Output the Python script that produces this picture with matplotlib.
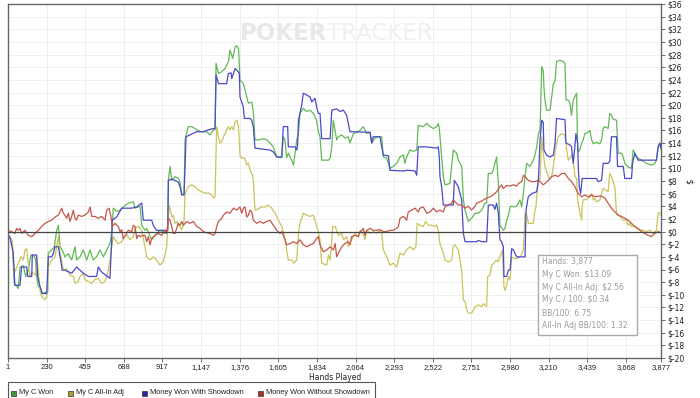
import matplotlib
matplotlib.use("Agg")
import matplotlib.pyplot as plt
from matplotlib.patches import Rectangle

# bankroll graph, values
green_hands = [1, 13, 26, 38, 62, 72, 92, 106, 121, 137, 157, 165, 171, 181, 191, 201, 225, 237, 240, 260, 276, 290, 300, 310, 323, 339, 358, 379, 399, 408, 428, 448, 468, 488, 507, 527, 547, 567, 587, 606, 616, 626, 646, 666, 685, 715, 745, 755, 785, 795, 814, 824, 854, 873, 903, 933, 949, 953,
               963, 973, 992, 1012, 1022, 1032, 1046, 1052, 1071, 1091, 1111, 1141, 1180, 1200, 1220, 1230, 1236, 1250, 1270, 1290, 1309, 1319, 1335, 1349, 1359, 1370, 1378, 1398, 1408, 1418, 1428, 1448, 1457, 1467, 1487, 1517, 1537, 1556, 1576, 1596, 1616, 1626, 1635, 1645, 1655, 1665, 1685, 1695, 1705, 1715, 1725, 1734, 1754, 1774, 1794, 1813, 1833, 1843, 1853, 1863, 1903,
               1913, 1923, 1932, 1952, 1962, 1982, 2001, 2021, 2031, 2051, 2071, 2090, 2110, 2130, 2150, 2160, 2179, 2199, 2219, 2229, 2249, 2268, 2288, 2308, 2328, 2348, 2357, 2367, 2387, 2407, 2427, 2436, 2466, 2486, 2506, 2526, 2545, 2555, 2561, 2575, 2585, 2595, 2624, 2644, 2664, 2674, 2694, 2704, 2714, 2733, 2753, 2773, 2793, 2813, 2832, 2842, 2852, 2872, 2881, 2901, 2911, 2921, 2941, 2951, 2961, 2971, 2981, 2991, 3001, 3020, 3040, 3050, 3060, 3070, 3080, 3099, 3119, 3129, 3139, 3149, 3159, 3169, 3178, 3182, 3188, 3198, 3218, 3228, 3238, 3248, 3257, 3277, 3297, 3307, 3313, 3327, 3337, 3346, 3356, 3366, 3376, 3382, 3386, 3396, 3406, 3415, 3425, 3445, 3455, 3465, 3475, 3494, 3514, 3524, 3534, 3544, 3563, 3573, 3583, 3593, 3613, 3623, 3643, 3653, 3662, 3682, 3702, 3712, 3722, 3731, 3761, 3791, 3820, 3840, 3850, 3860, 3870, 3877]
green_vals = [-0.5, -1.0, -1.6, -8.2, -9.0, -5.6, -5.4, -7.1, -6.1, -3.7, -3.9, -4.5, -7.1, -8.7, -8.7, -9.8, -9.6, -9.6, -3.4, -2.9, -2.4, 0.2, 1.0, -2.4, -2.9, -4.0, -3.5, -4.5, -2.4, -4.5, -4.0, -2.9, -4.5, -2.9, -4.5, -4.0, -2.9, -4.0, -2.9, -1.9, -0.3, 3.7, 3.2, 3.4, 3.9, 4.5, 4.7, 3.7, 4.0, 1.0, 0.2, 0.5, -1.3, -0.6, 0.2, -0.3, 0.2, 8.1,
              10.3, 8.1, 8.7, 8.4, 7.8, 6.0, 5.8, 14.5, 16.6, 16.6, 16.3, 15.8, 15.8, 15.3, 16.1, 16.1, 26.6, 25.0, 25.3, 25.8, 26.9, 28.7, 27.4, 29.2, 29.4, 28.8, 24.0, 23.4, 22.4, 21.3, 20.3, 20.5, 19.0, 14.5, 14.5, 14.7, 14.5, 14.0, 13.4, 11.8, 11.7, 11.7, 15.0, 14.5, 11.7, 12.4, 11.3, 10.5, 12.4, 14.5, 15.5, 18.7, 19.5, 19.0, 19.2, 18.7, 17.6, 15.8, 15.0, 11.3, 11.3,
              11.6, 13.4, 17.6, 14.5, 15.0, 15.3, 14.8, 15.0, 14.0, 15.5, 15.7, 16.0, 16.6, 15.5, 15.7, 14.0, 14.8, 15.0, 15.0, 11.8, 11.6, 10.0, 10.3, 10.8, 11.8, 12.1, 10.8, 11.8, 12.9, 12.7, 12.9, 16.8, 16.6, 17.1, 16.6, 16.3, 16.6, 17.1, 16.3, 11.8, 8.7, 7.4, 7.6, 12.9, 12.4, 11.3, 10.3, 5.0, 3.4, 1.6, 2.1, 2.9, 2.9, 3.4, 4.5, 4.5, 9.2, 9.2, 9.7, 11.8, 7.9, 1.0, 0.2, 0.5, 1.8, 2.5, 3.9, 4.0, 3.9, 4.0, 5.0, 3.9, 6.0, 8.7, 10.8, 10.3, 11.3, 12.1, 13.4, 15.5, 16.0, 26.1, 25.5, 22.9, 20.8, 19.2, 19.2, 21.3, 23.4, 23.8, 26.9, 27.1, 26.9, 26.6, 20.8, 20.8, 20.3, 18.4, 20.8, 21.3, 21.9, 13.4, 12.6, 13.0, 14.0, 14.5, 15.5, 15.7, 16.0, 14.5, 13.9, 14.1, 13.9, 14.5, 16.3, 16.6, 16.3, 18.7, 18.4, 17.8, 17.6, 12.4, 12.4, 11.8, 10.8, 10.2, 10.0, 12.9, 12.4, 11.8, 11.3, 10.8, 10.5, 10.8, 11.3, 13.4, 14.0, 13.09]

allin_hands = [1, 13, 26, 38, 78, 92, 102, 112, 121, 131, 142, 165, 171, 181, 191, 201, 221, 231, 240, 260, 280, 290, 300, 310, 320, 329, 349, 369, 389, 399, 418, 428, 448, 458, 478, 498, 517, 537, 557, 577, 587, 596, 606, 616, 626, 636, 656, 676, 695, 705, 725, 745, 755, 775, 795, 814, 824, 844, 863, 883, 903, 923, 943, 953,
               958, 973, 982, 992, 1002, 1012, 1022, 1032, 1042, 1046, 1052, 1071, 1091, 1111, 1131, 1150, 1170, 1190, 1210, 1220, 1230, 1236, 1240, 1250, 1260, 1270, 1280, 1290, 1299, 1309, 1319, 1329, 1339, 1349, 1359, 1368, 1374, 1378, 1388, 1408, 1418, 1428, 1438, 1448, 1457, 1467, 1487, 1507, 1527, 1546, 1566, 1586, 1606, 1626, 1635, 1645, 1655, 1665, 1685, 1695, 1715, 1725, 1734, 1754, 1774, 1794, 1813, 1823, 1833, 1843, 1853, 1863, 1893, 1903, 1913,
               1929, 1943, 1962, 1982, 1992, 2011, 2021, 2041, 2061, 2080, 2100, 2120, 2130, 2150, 2169, 2189, 2209, 2219, 2229, 2249, 2268, 2288, 2308, 2318, 2328, 2348, 2367, 2387, 2407, 2422, 2430, 2446, 2466, 2480, 2496, 2516, 2536, 2545, 2555, 2565, 2585, 2595, 2614, 2634, 2644, 2654, 2674, 2684, 2694, 2704, 2714, 2724, 2733, 2753, 2763, 2773, 2793, 2813, 2822, 2842, 2848, 2862, 2872, 2881, 2901, 2911, 2935, 2945, 2951, 2961, 2971, 2981, 2991, 3010, 3030, 3050, 3060, 3070, 3080, 3089, 3119, 3129, 3134, 3149, 3159, 3169, 3178, 3188, 3208, 3218, 3228, 3238, 3248, 3257, 3267, 3287, 3307, 3317, 3327, 3337, 3346, 3356, 3366, 3376, 3382, 3396, 3406, 3409, 3415, 3435, 3455, 3465, 3475, 3485, 3494, 3514, 3524, 3534, 3554, 3563, 3573, 3583, 3593, 3603, 3607, 3613, 3623, 3643, 3653, 3672, 3682, 3692, 3702, 3722, 3731, 3751, 3771, 3791, 3810, 3830, 3850, 3860, 3870, 3877]
allin_vals = [-0.5, -0.8, -1.6, -6.6, -4.0, -4.5, -2.9, -2.7, -5.0, -7.1, -6.4, -6.9, -4.0, -6.4, -9.3, -10.3, -10.8, -10.3, -5.6, -4.5, -4.0, -2.4, -0.8, -3.4, -4.5, -6.1, -5.9, -6.9, -7.1, -8.2, -7.9, -7.1, -6.6, -7.6, -7.9, -8.2, -7.6, -7.4, -8.2, -7.9, -7.1, -6.1, -4.5, -2.4, -0.8, -1.3, -1.9, -1.6, -0.8, -0.5, -1.3, -0.8, 0.5, 0.8, 0.2, -2.4, -4.0, -4.5, -4.0, -4.5, -5.3, -4.8, -2.4, 2.3,
              4.2, 2.3, 2.6, 1.3, 1.6, 1.0, 0.8, 0.3, 1.0, 1.8, 6.0, 7.1, 7.4, 7.1, 6.6, 6.3, 6.1, 6.1, 5.8, 5.3, 5.5, 12.9, 16.6, 15.0, 14.0, 14.2, 15.0, 15.5, 16.1, 16.6, 16.1, 16.6, 16.1, 17.4, 17.6, 16.8, 14.5, 12.1, 11.6, 11.6, 10.5, 10.8, 9.7, 9.2, 8.4, 3.4, 3.6, 3.9, 3.9, 4.2, 3.7, 2.9, 1.8, 0.8, 0.0, -1.1, -2.9, -4.5, -4.5, -5.0, -4.5, -0.3, 1.3, 2.9, 2.6, 2.4, 2.6, 1.8, 0.8, 0.0, -1.3, -5.0, -5.3, -3.7, -4.5,
              0.8, 0.8, -0.6, -0.3, -1.3, -0.8, -2.4, -1.3, -0.3, -0.8, 0.2, -1.3, 0.2, -0.3, 0.0, -0.3, 0.2, -0.3, -2.9, -4.0, -5.3, -5.0, -5.6, -4.5, -3.4, -3.7, -2.9, -2.4, -2.9, -2.4, 1.3, 1.0, 0.8, 1.6, 1.0, 1.0, 0.8, 1.0, 0.2, -1.9, -3.4, -4.5, -4.8, -4.5, -2.4, -2.1, -2.9, -4.5, -6.3, -10.8, -11.1, -12.4, -12.9, -12.9, -12.4, -11.9, -11.6, -11.9, -11.4, -11.9, -7.1, -6.9, -5.3, -5.1, -4.5, -4.8, -2.9, -8.7, -9.3, -8.5, -7.1, -7.6, -4.0, -4.3, -4.2, -3.6, -2.9, 2.9, 2.6, 1.3, 1.3, 3.4, 3.7, 8.4, 8.2, 15.0, 12.4, 10.3, 8.7, 8.3, 8.7, 10.3, 12.4, 14.0, 15.0, 15.5, 15.3, 12.9, 11.3, 11.6, 12.1, 11.3, 8.7, 8.4, 5.0, 2.9, 1.8, 3.9, 5.0, 5.1, 5.5, 6.0, 5.0, 5.2, 4.7, 5.0, 6.0, 6.8, 6.5, 6.3, 9.2, 8.7, 7.9, 7.1, 5.5, 2.9, 2.6, 2.1, 1.8, 1.8, 1.0, 1.3, 0.8, 0.8, 0.5, 0.2, 0.2, 0.0, 0.2, -0.3, 0.2, 2.9, 3.0, 2.56]

sd_hands = [1, 13, 32, 42, 72, 82, 112, 118, 142, 145, 171, 177, 191, 205, 231, 240, 260, 270, 280, 300, 310, 323, 339, 379, 408, 428, 448, 478, 527, 537, 557, 606, 616, 620, 646, 676, 735, 765, 795, 804, 854, 863, 883, 949, 953,
            973, 992, 1012, 1022, 1032, 1046, 1058, 1081, 1121, 1160, 1190, 1220, 1230, 1236, 1250, 1299, 1309, 1325, 1329, 1349, 1364, 1374, 1378, 1388, 1398, 1404, 1438, 1448, 1457, 1467, 1556, 1576, 1596, 1626, 1635, 1661, 1665, 1705, 1715, 1720, 1725, 1744, 1754, 1774, 1794, 1804, 1823, 1833, 1843, 1853, 1863, 1913,
            1923, 1952, 1972, 1992, 2011, 2031, 2150, 2160, 2169, 2209, 2219, 2229, 2259, 2268, 2328, 2357, 2367, 2417, 2427, 2436, 2486, 2545, 2555, 2561, 2565, 2575, 2585, 2644, 2650, 2674, 2694, 2704, 2714, 2783, 2793, 2813, 2842, 2852, 2881, 2891, 2901, 2911, 2921, 2931, 2941, 2945, 2961, 2971, 2981, 2991, 3001, 3020, 3070, 3076, 3089, 3109, 3139, 3149, 3159, 3169, 3178, 3182, 3198, 3218, 3238, 3248, 3257, 3307, 3313, 3337, 3346, 3356, 3366, 3372, 3382, 3386, 3392, 3400, 3409, 3494, 3504, 3524, 3534, 3563, 3573, 3583, 3613, 3619, 3653, 3662, 3702, 3708, 3722, 3741, 3850, 3860, 3870, 3877]
sd_vals = [-0.5, -1.0, -3.4, -8.5, -8.5, -5.6, -5.6, -7.1, -7.1, -3.7, -3.7, -7.1, -8.7, -9.8, -9.8, -4.0, -4.0, -3.5, -2.4, -2.4, -4.0, -6.1, -6.1, -6.6, -5.6, -6.1, -6.6, -7.1, -7.1, -5.6, -6.4, -7.4, -2.0, 1.8, 2.3, 3.7, 3.7, 3.9, 4.5, 1.8, 1.8, 1.0, 0.2, 0.2, 8.1,
           8.3, 8.1, 7.8, 7.1, 5.8, 5.8, 15.0, 15.3, 15.8, 15.8, 16.1, 16.3, 16.3, 24.8, 23.4, 23.4, 25.0, 25.1, 24.2, 25.8, 25.4, 25.0, 21.3, 20.5, 19.7, 17.9, 17.9, 17.6, 16.6, 13.2, 12.9, 12.6, 11.8, 11.8, 16.6, 16.6, 13.4, 13.4, 12.9, 13.7, 17.6, 20.0, 21.9, 21.6, 21.3, 20.5, 21.1, 19.7, 18.7, 18.7, 14.7, 14.7,
           19.2, 19.4, 19.0, 19.2, 18.4, 15.8, 15.7, 14.0, 15.0, 15.0, 13.4, 12.1, 12.0, 9.7, 9.6, 9.6, 9.7, 9.6, 8.9, 13.4, 13.4, 13.2, 13.4, 11.8, 8.7, 7.1, 4.2, 4.2, 8.1, 7.1, 5.0, -0.3, -1.6, -1.6, -1.4, -1.6, -1.6, 4.2, 4.2, 3.5, 4.5, 3.0, -1.3, -1.6, -2.4, -7.1, -7.1, -6.1, -6.1, -2.7, -2.9, -4.0, -4.0, 3.4, 5.5, 6.0, 6.3, 8.0, 14.5, 17.6, 17.3, 12.9, 12.1, 11.8, 12.1, 14.0, 17.9, 17.7, 14.0, 13.7, 13.4, 10.8, 13.5, 15.5, 14.0, 10.3, 7.1, 6.0, 8.4, 8.4, 7.9, 8.1, 10.8, 10.8, 11.1, 15.0, 15.0, 10.3, 10.3, 8.4, 8.4, 10.8, 12.4, 11.3, 11.3, 13.4, 14.0, 13.2]

nosd_hands = [1, 22, 42, 52, 62, 72, 82, 102, 121, 142, 161, 181, 201, 221, 240, 260, 280, 300, 320, 329, 339, 349, 359, 369, 379, 389, 399, 408, 418, 438, 458, 478, 488, 498, 517, 537, 557, 577, 587, 601, 612, 620, 636, 656, 666, 676, 685, 705, 715, 735, 745, 755, 765, 775, 785, 804, 814, 824, 834, 844, 854, 873, 893, 913, 933,
              943, 953, 963, 973, 982, 992, 1002, 1012, 1022, 1032, 1042, 1062, 1081, 1101, 1121, 1141, 1160, 1180, 1200, 1220, 1230, 1240, 1250, 1270, 1280, 1299, 1319, 1339, 1359, 1378, 1388, 1398, 1408, 1418, 1428, 1438, 1448, 1457, 1477, 1497, 1517, 1537, 1556, 1576, 1596, 1616, 1626, 1645, 1655, 1675, 1695, 1715, 1734, 1754, 1774, 1794, 1813, 1833, 1843, 1853, 1873, 1893, 1913,
              1932, 1943, 1952, 1962, 1982, 2001, 2021, 2031, 2041, 2061, 2080, 2090, 2100, 2110, 2120, 2130, 2150, 2169, 2189, 2209, 2229, 2249, 2268, 2288, 2308, 2318, 2328, 2348, 2367, 2377, 2397, 2417, 2436, 2446, 2466, 2486, 2506, 2526, 2545, 2565, 2585, 2595, 2614, 2634, 2644, 2654, 2674, 2694, 2714, 2733, 2753, 2773, 2783, 2803, 2822, 2842, 2862, 2881, 2901, 2921, 2931, 2941,
              2961, 2981, 3001, 3020, 3030, 3050, 3060, 3070, 3089, 3109, 3129, 3149, 3159, 3178, 3188, 3208, 3228, 3248, 3267, 3287, 3307, 3327, 3346, 3366, 3386, 3406, 3425, 3445, 3465, 3485, 3504, 3524, 3544, 3563, 3583, 3603, 3623, 3643, 3662, 3682, 3702, 3722, 3741, 3761, 3781, 3801, 3820, 3840, 3860, 3877]
nosd_vals = [0.2, 0.0, -0.3, 0.5, 0.2, 0.5, -0.3, 0.2, -0.6, -0.8, -0.3, 0.2, 0.8, 1.3, 1.6, 1.8, 2.3, 2.6, 3.7, 2.9, 2.6, 2.1, 2.9, 1.6, 2.4, 3.4, 2.1, 1.8, 2.6, 2.4, 2.6, 3.1, 3.9, 2.4, 2.4, 2.1, 2.4, 1.8, 3.4, 3.7, 2.4, 0.8, 1.3, 0.8, 0.0, 0.3, -1.1, -0.3, 0.2, 0.0, 1.0, 0.8, -1.1, -0.6, -0.8, -0.6, -0.6, -1.6, -0.8, -2.1, -1.1, -0.6, -0.3, -0.6, 0.2,
             -0.3, 2.1, 1.8, 0.8, -0.3, -0.3, 0.5, 1.3, 1.0, 1.6, 1.0, 1.6, 1.3, 1.6, 0.8, 0.5, 0.0, -0.2, -0.3, -0.6, -0.3, 0.8, 1.6, 2.1, 2.6, 3.1, 2.9, 3.7, 3.4, 3.9, 2.9, 3.7, 3.9, 2.3, 2.6, 3.4, 3.1, 1.8, 1.3, 1.6, 1.3, 1.6, 1.8, 1.0, 0.2, -0.3, 0.0, -1.3, -2.1, -1.9, -1.6, -1.9, -1.3, -2.1, -2.4, -2.1, -1.9, -1.1, -0.8, -2.1, -3.2, -2.9, -2.4,
             -2.9, -1.9, -4.0, -3.4, -2.4, -1.9, -1.6, -2.1, -0.8, -0.6, -0.8, 0.0, 0.2, 0.5, -0.6, 0.2, 0.5, 0.2, 0.2, 0.3, 0.0, 0.0, 0.2, 0.2, 0.5, 0.8, 2.1, 2.4, 1.8, 3.1, 3.4, 3.7, 3.1, 3.7, 3.9, 2.9, 3.1, 3.7, 3.1, 3.4, 3.1, 3.9, 4.2, 4.5, 5.0, 4.7, 4.2, 4.2, 3.7, 4.0, 3.4, 4.0, 4.5, 4.7, 5.0, 5.3, 5.5, 5.8, 6.3, 7.1, 7.4, 6.8,
             7.3, 7.2, 7.4, 7.2, 7.6, 7.9, 8.9, 8.7, 8.1, 7.9, 7.9, 8.1, 7.9, 7.4, 7.6, 8.1, 8.7, 8.9, 8.7, 9.2, 9.2, 8.4, 7.9, 7.1, 6.0, 5.5, 5.8, 5.5, 5.8, 5.5, 5.6, 5.6, 5.3, 4.5, 3.7, 3.1, 2.6, 2.4, 2.1, 1.8, 1.3, 0.8, 0.5, 0.0, -0.3, -0.6, -0.8, -0.3, 0.0, -0.2]

x_ticks = [1, 230, 459, 688, 917, 1147, 1376, 1605, 1834, 2064, 2293, 2522, 2751, 2980, 3210, 3439, 3668, 3877]
y_ticks = list(range(-20, 37, 2))

series_names = ["My C Won", "My C All-In Adj", "Money Won With Showdown", "Money Won Without Showdown"]
line_colors = ["#62b955", "#cbc35c", "#4a4acb", "#c4574b"]
key_colors = ["#3f9a3a", "#aaa233", "#2a2aa8", "#a8352a"]

stats_lines = ["Hands: 3,877", "My C Won: $13.09", "My C All-In Adj: $2.56",
               "My C / 100: $0.34", "BB/100: 6.75", "All-In Adj BB/100: 1.32"]

W, H = 700, 398
fig = plt.figure(figsize=(7.0, 3.98), dpi=100)
ax = fig.add_axes([8 / W, 1 - 358 / H, 653 / W, 354 / H])

fs = 5.5
for hands, vals, c in [(green_hands, green_vals, line_colors[0]),
                       (allin_hands, allin_vals, line_colors[1]),
                       (sd_hands, sd_vals, line_colors[2]),
                       (nosd_hands, nosd_vals, line_colors[3])]:
    ax.plot(hands, vals, color=c, lw=0.9, zorder=3)

ax.axhline(0, color="#444444", lw=0.9, zorder=4)

ax.set_xlim(1, 3877)
ax.set_ylim(-20, 36)
ax.set_xticks(x_ticks)
ax.set_xticklabels([f"{t:,}" for t in x_ticks], fontsize=fs, color="#222222", family="Liberation Sans")
ax.yaxis.tick_right()
ax.set_yticks(y_ticks)
ax.set_yticklabels([f"${t}" for t in y_ticks], fontsize=fs, color="#222222")
ax.tick_params(axis="both", length=3, width=0.6, color="#555555", pad=1.5)
ax.grid(True, color="#efefef", lw=0.7, zorder=0)
for s in ax.spines.values():
    s.set_color("#666666")
    s.set_linewidth(1.0)

fig.text(335 / W, 1 - 377 / H, "Hands Played", fontsize=fs, color="#222222", ha="center", va="center")
fig.text(690 / W, 1 - 181 / H, "$", fontsize=fs + 0.5, color="#222222", ha="center", va="center", rotation=90)

# watermark
fig.text(240 / W, 1 - 34 / H, "POKER", fontsize=16.5, fontweight="bold", color="#e8e8e8", va="center", ha="left")
fig.text(327 / W, 1 - 34 / H, "TRACKER", fontsize=16.5, color="#f0f0f0", va="center", ha="left")

# stats box
fig.patches.append(Rectangle((538 / W, 1 - 335 / H), 99 / W, 80 / H, transform=fig.transFigure,
                             facecolor="white", edgecolor="#aaaaaa", lw=1.0, zorder=5))
for i, line in enumerate(stats_lines):
    fig.text(542 / W, 1 - (261.5 + i * 12.8) / H, line, fontsize=fs, color="#9a9a9a", va="center", ha="left", zorder=6)

# legend box along the bottom edge (cut off like the original)
fig.patches.append(Rectangle((8 / W, -0.05), 367 / W, 0.05 + 1 - 382 / H, transform=fig.transFigure,
                             facecolor="white", edgecolor="#555555", lw=0.8))
key_x = [13, 70, 144, 260]
for kx, name, kc in zip(key_x, series_names, key_colors):
    fig.patches.append(Rectangle(((kx - 2.5) / W, 1 - 395.5 / H), 5 / W, 5 / H, transform=fig.transFigure,
                                 facecolor=kc, edgecolor="#333333", lw=0.5))
    fig.text((kx + 6) / W, 1 - 393 / H, name, fontsize=5.3, family="Liberation Sans",
             color="#222222", ha="left", va="center")

fig.savefig("out.png", dpi=100)
